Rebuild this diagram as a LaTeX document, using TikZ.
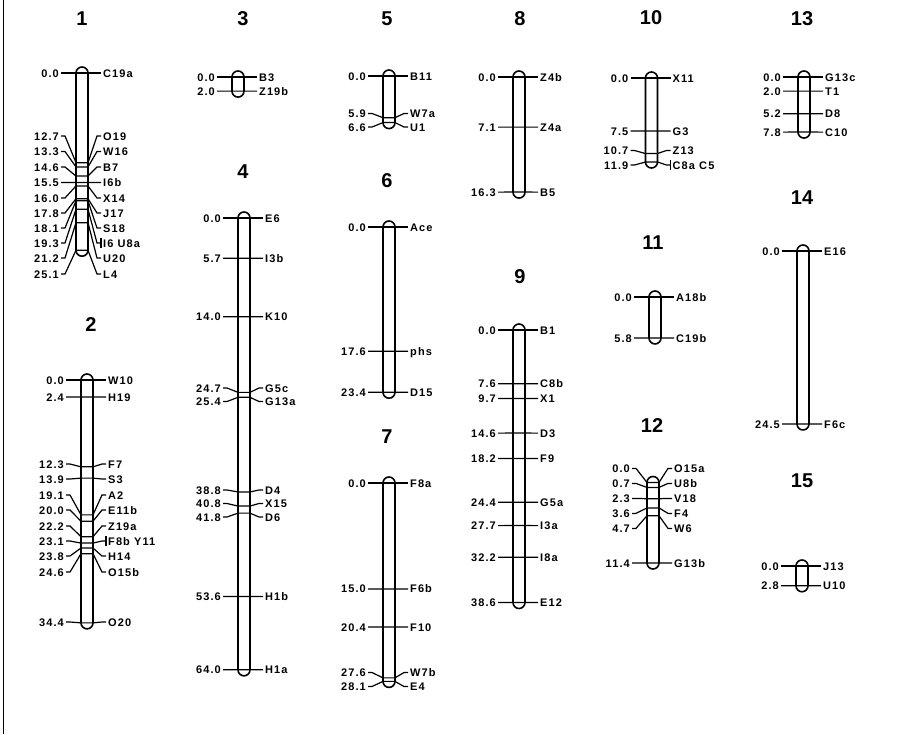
\documentclass[tikz,border=0pt]{standalone}
\usepackage{fontspec}
\setmainfont{Liberation Sans}
\newfontfamily\mapfont[LetterSpace=10]{Liberation Sans}
\usetikzlibrary{positioning}

% one locus: id, bar centre x, y of 0.0, position (cM), label y, locus name
\newcommand{\locus}[6]{%
  \pgfmathsetmacro{\ytrue}{#3+7.06*#4}
  \node[cmlabel] (cm-#1) at ({#2-21},#5) {#4};
  \node[locuslabel] (loc-#1) at ({#2+19},#5) {#6};
  \draw[marker] (cm-#1.east) -- ++(4,0) -- ({#2-6},\ytrue) -- ({#2+6},\ytrue)
    -- ({#2+15},#5) -- (loc-#1.west);
}
% several loci at one position
\newcommand{\locusset}[6]{%
  \locus{#1}{#2}{#3}{#4}{#5}{#6}
  \draw[marker] ([yshift=5pt]loc-#1.west) -- ([yshift=-5pt]loc-#1.west);
}
% the bar: bar centre x, y of 0.0, length (cM)
\newcommand{\chrbar}[3]{%
  \pgfmathsetmacro{\ybot}{#2+7.06*#3}
  \draw[chrom] ({#1-6},{#2-6}) rectangle ({#1+6},{\ybot+6});
}

\begin{document}
\begin{tikzpicture}[x=1pt, y=-1pt,
    chrom/.style={line width=1.6pt, rounded corners=6pt},
    marker/.style={line width=1.2pt},
    cmlabel/.style={anchor=east, inner xsep=2pt, inner ysep=0pt,
      text height=8pt, text depth=0pt,
      font=\mapfont\bfseries\fontsize{11}{13}\selectfont},
    locuslabel/.style={cmlabel, anchor=west},
    lgtitle/.style={font=\bfseries\fontsize{20}{24}\selectfont, inner sep=0pt}
  ]
  \useasboundingbox (0,0) rectangle (905,734);
  \draw[line width=1.4pt] (3.5,0) -- (3.5,734);

  % Linkage group 1
  \node[lgtitle] (lg1) at (82,19) {1};
  \chrbar{82}{73}{25.1}
  \locus{1a}{82}{73}{0.0}{73}{C19a}
  \locus{1b}{82}{73}{12.7}{136}{O19}
  \locus{1c}{82}{73}{13.3}{151.5}{W16}
  \locus{1d}{82}{73}{14.6}{167}{B7}
  \locus{1e}{82}{73}{15.5}{182.5}{I6b}
  \locus{1f}{82}{73}{16.0}{198}{X14}
  \locus{1g}{82}{73}{17.8}{213}{J17}
  \locus{1h}{82}{73}{18.1}{228}{S18}
  \locusset{1i}{82}{73}{19.3}{243}{I6 U8a}
  \locus{1j}{82}{73}{21.2}{258}{U20}
  \locus{1k}{82}{73}{25.1}{274}{L4}

  % Linkage group 2
  \node[lgtitle] (lg2) at (91,325) {2};
  \chrbar{87}{380}{34.4}
  \locus{2a}{87}{380}{0.0}{380}{W10}
  \locus{2b}{87}{380}{2.4}{397}{H19}
  \locus{2c}{87}{380}{12.3}{464}{F7}
  \locus{2d}{87}{380}{13.9}{479}{S3}
  \locus{2e}{87}{380}{19.1}{495}{A2}
  \locus{2f}{87}{380}{20.0}{510}{E11b}
  \locus{2g}{87}{380}{22.2}{526}{Z19a}
  \locusset{2h}{87}{380}{23.1}{541}{F8b Y11}
  \locus{2i}{87}{380}{23.8}{556}{H14}
  \locus{2j}{87}{380}{24.6}{572}{O15b}
  \locus{2k}{87}{380}{34.4}{622}{O20}

  % Linkage group 3
  \node[lgtitle] (lg3) at (243,19) {3};
  \chrbar{238}{77}{2.0}
  \locus{3a}{238}{77}{0.0}{77}{B3}
  \locus{3b}{238}{77}{2.0}{91.1}{Z19b}

  % Linkage group 4
  \node[lgtitle] (lg4) at (243,172) {4};
  \chrbar{244}{218}{64.0}
  \locus{4a}{244}{218}{0.0}{218}{E6}
  \locus{4b}{244}{218}{5.7}{258.2}{I3b}
  \locus{4c}{244}{218}{14.0}{316.8}{K10}
  \locus{4d}{244}{218}{24.7}{388}{G5c}
  \locus{4e}{244}{218}{25.4}{401.5}{G13a}
  \locus{4f}{244}{218}{38.8}{490}{D4}
  \locus{4g}{244}{218}{40.8}{503.5}{X15}
  \locus{4h}{244}{218}{41.8}{517}{D6}
  \locus{4i}{244}{218}{53.6}{596.4}{H1b}
  \locus{4j}{244}{218}{64.0}{669.8}{H1a}

  % Linkage group 5
  \node[lgtitle] (lg5) at (387,19) {5};
  \chrbar{389}{76}{6.6}
  \locus{5a}{389}{76}{0.0}{76}{B11}
  \locus{5b}{389}{76}{5.9}{113.5}{W7a}
  \locus{5c}{389}{76}{6.6}{127}{U1}

  % Linkage group 6
  \node[lgtitle] (lg6) at (387,181) {6};
  \chrbar{389}{227}{23.4}
  \locus{6a}{389}{227}{0.0}{227}{Ace}
  \locus{6b}{389}{227}{17.6}{351.3}{phs}
  \locus{6c}{389}{227}{23.4}{392.2}{D15}

  % Linkage group 7
  \node[lgtitle] (lg7) at (387,437) {7};
  \chrbar{389}{483}{28.1}
  \locus{7a}{389}{483}{0.0}{483}{F8a}
  \locus{7b}{389}{483}{15.0}{588.9}{F6b}
  \locus{7c}{389}{483}{20.4}{627}{F10}
  \locus{7d}{389}{483}{27.6}{672.5}{W7b}
  \locus{7e}{389}{483}{28.1}{686.5}{E4}

  % Linkage group 8
  \node[lgtitle] (lg8) at (520,19) {8};
  \chrbar{519}{77}{16.3}
  \locus{8a}{519}{77}{0.0}{77}{Z4b}
  \locus{8b}{519}{77}{7.1}{127.1}{Z4a}
  \locus{8c}{519}{77}{16.3}{192.1}{B5}

  % Linkage group 9
  \node[lgtitle] (lg9) at (520,277) {9};
  \chrbar{519}{330}{38.6}
  \locus{9a}{519}{330}{0.0}{330}{B1}
  \locus{9b}{519}{330}{7.6}{383.7}{C8b}
  \locus{9c}{519}{330}{9.7}{398.5}{X1}
  \locus{9d}{519}{330}{14.6}{433.1}{D3}
  \locus{9e}{519}{330}{18.2}{458.5}{F9}
  \locus{9f}{519}{330}{24.4}{502.3}{G5a}
  \locus{9g}{519}{330}{27.7}{525.6}{I3a}
  \locus{9h}{519}{330}{32.2}{557.3}{I8a}
  \locus{9i}{519}{330}{38.6}{602.5}{E12}

  % Linkage group 10
  \node[lgtitle] (lg10) at (651,18) {10};
  \chrbar{651.5}{78}{11.9}
  \locus{10a}{651.5}{78}{0.0}{78}{X11}
  \locus{10b}{651.5}{78}{7.5}{131}{G3}
  \locus{10c}{651.5}{78}{10.7}{150.5}{Z13}
  \locusset{10d}{651.5}{78}{11.9}{165}{C8a C5}

  % Linkage group 11
  \node[lgtitle] (lg11) at (653,243) {11};
  \chrbar{655}{297}{5.8}
  \locus{11a}{655}{297}{0.0}{297}{A18b}
  \locus{11b}{655}{297}{5.8}{338}{C19b}

  % Linkage group 12
  \node[lgtitle] (lg12) at (652,426) {12};
  \chrbar{653}{482.5}{11.4}
  \locus{12a}{653}{482.5}{0.0}{468.4}{O15a}
  \locus{12b}{653}{482.5}{0.7}{483.4}{U8b}
  \locus{12c}{653}{482.5}{2.3}{498.4}{V18}
  \locus{12d}{653}{482.5}{3.6}{513.4}{F4}
  \locus{12e}{653}{482.5}{4.7}{528.4}{W6}
  \locus{12f}{653}{482.5}{11.4}{563}{G13b}

  % Linkage group 13
  \node[lgtitle] (lg13) at (802,19) {13};
  \chrbar{804}{77}{7.8}
  \locus{13a}{804}{77}{0.0}{77}{G13c}
  \locus{13b}{804}{77}{2.0}{91.1}{T1}
  \locus{13c}{804}{77}{5.2}{113.7}{D8}
  \locus{13d}{804}{77}{7.8}{132.1}{C10}

  % Linkage group 14
  \node[lgtitle] (lg14) at (802,198) {14};
  \chrbar{803}{251}{24.5}
  \locus{14a}{803}{251}{0.0}{251}{E16}
  \locus{14b}{803}{251}{24.5}{424}{F6c}

  % Linkage group 15
  \node[lgtitle] (lg15) at (802,481) {15};
  \chrbar{802}{566}{2.8}
  \locus{15a}{802}{566}{0.0}{566}{J13}
  \locus{15b}{802}{566}{2.8}{585.8}{U10}
\end{tikzpicture}
\end{document}
